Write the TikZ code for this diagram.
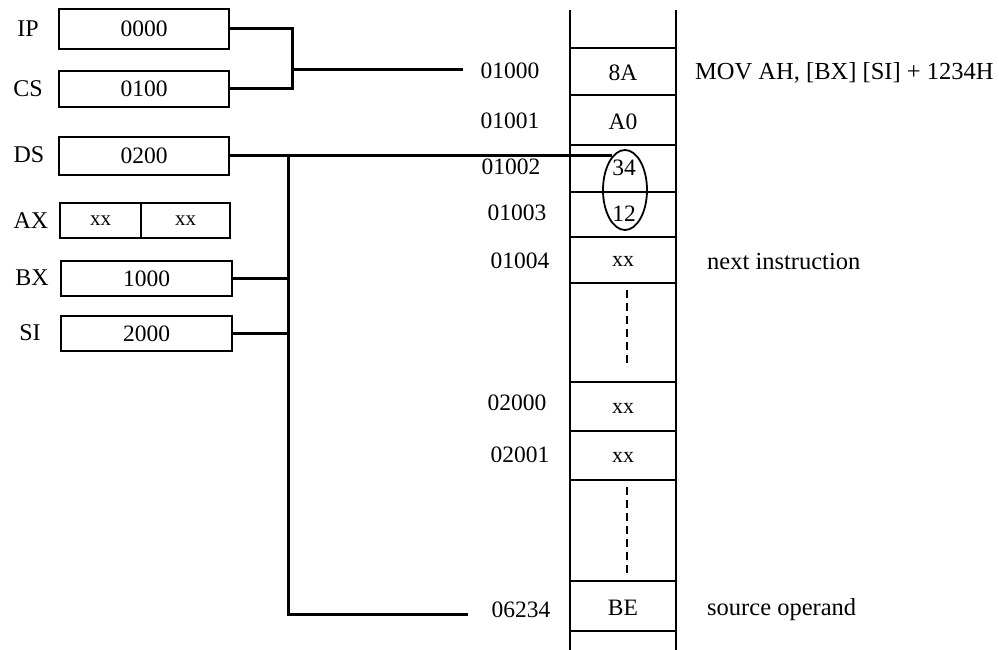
\documentclass[tikz,border=0pt]{standalone}
\usepackage{fontspec}
\setmainfont{Liberation Serif}
\usetikzlibrary{shapes.geometric}
\begin{document}
\begin{tikzpicture}[x=1pt,y=-1pt,
  reg/.style={draw,line width=1.3pt,rectangle,inner sep=0pt,font=\fontsize{23.5}{26}\selectfont},
  lbl/.style={inner sep=0pt,font=\fontsize{24}{27}\selectfont},
  addr/.style={inner sep=0pt,font=\fontsize{23.5}{26}\selectfont},
  cell/.style={inner sep=0pt,font=\fontsize{23.5}{26}\selectfont},
  small/.style={inner sep=0pt,font=\fontsize{22}{24}\selectfont},
  note/.style={inner sep=0pt,anchor=west,font=\fontsize{24.5}{27}\selectfont},
  bus/.style={line width=3pt},
  mem/.style={line width=1.3pt}]
\useasboundingbox (0,0) rectangle (999,650);
% registers
\node[reg,minimum width=170pt,minimum height=40pt] (IP) at (144,29) {0000};
\node[reg,minimum width=170pt,minimum height=36pt] (CS) at (144,89) {0100};
\node[reg,minimum width=170pt,minimum height=38pt] (DS) at (144,156) {0200};
\node[reg,minimum width=81pt,minimum height=35pt,font=\fontsize{21}{23}\selectfont] (AXL) at (100.5,220.5) {xx};
\node[reg,minimum width=89pt,minimum height=35pt,font=\fontsize{21}{23}\selectfont] (AXR) at (185.5,220.5) {xx};
\node[reg,minimum width=171pt,minimum height=35pt] (BX) at (146.5,278.5) {1000};
\node[reg,minimum width=171pt,minimum height=35pt] (SI) at (146.5,333.5) {2000};
\node[lbl] (lIP) at (28,29) {IP};
\node[lbl] (lCS) at (28,89) {CS};
\node[lbl] (lDS) at (29,155) {DS};
\node[lbl] (lAX) at (31,221) {AX};
\node[lbl] (lBX) at (32,278) {BX};
\node[lbl] (lSI) at (30,333) {SI};
% memory column
\draw[mem] (570,10) -- (570,650);
\draw[mem] (676,10) -- (676,650);
\foreach \y in {48,95,145,192,237,283,382,431,480,581,631}
  \draw[mem] (570,\y) -- (676,\y);
\draw[mem,dash pattern=on 8pt off 5pt] (627,290) -- (627,365);
\draw[mem,dash pattern=on 8pt off 5pt] (627,487) -- (627,577);
\node[cell] (m0) at (623,73) {8A};
\node[cell] (m1) at (623,122) {A0};
\node[cell] (m2) at (624,168) {34};
\node[cell] (m3) at (624,214) {12};
\node[small] (m4) at (623,261) {xx};
\node[small] (m5) at (623,408) {xx};
\node[small] (m6) at (623,457) {xx};
\node[cell] (m7) at (623,608) {BE};
\node[draw,ellipse,line width=1.8pt,minimum width=44pt,minimum height=80pt,inner sep=0pt] (op) at (625,190) {};
% addresses
\node[addr] (a0) at (510,71) {01000};
\node[addr] (a1) at (510,121) {01001};
\node[addr] (a2) at (511,167) {01002};
\node[addr] (a3) at (517,213) {01003};
\node[addr] (a4) at (520,261) {01004};
\node[addr] (a5) at (517,403) {02000};
\node[addr] (a6) at (520,455) {02001};
\node[addr] (a7) at (521,610) {06234};
% notes
\node[note] (n0) at (695,73) {MOV AH, [BX] [SI] + 1234H};
\node[note] (n1) at (707,262) {next instruction};
\node[note] (n2) at (707,610) {source operand};
% connectors
\coordinate (j1) at (292,70);
\coordinate (e1) at (463,70);
\coordinate (bt) at (288,156);
\coordinate (bb) at (288,614);
\coordinate (e2) at (468,614);
\draw[bus] (IP.east) -- (IP.east -| j1) -- (CS.east -| j1) -- (CS.east);
\draw[bus] (j1) -- (e1);
\draw[bus] (DS.east) -- (DS.east -| op.111);
\draw[bus] (bt) -- (bb) -- (e2);
\draw[bus] (BX.east) -- (BX.east -| bt);
\draw[bus] (SI.east) -- (SI.east -| bt);
\end{tikzpicture}
\end{document}
